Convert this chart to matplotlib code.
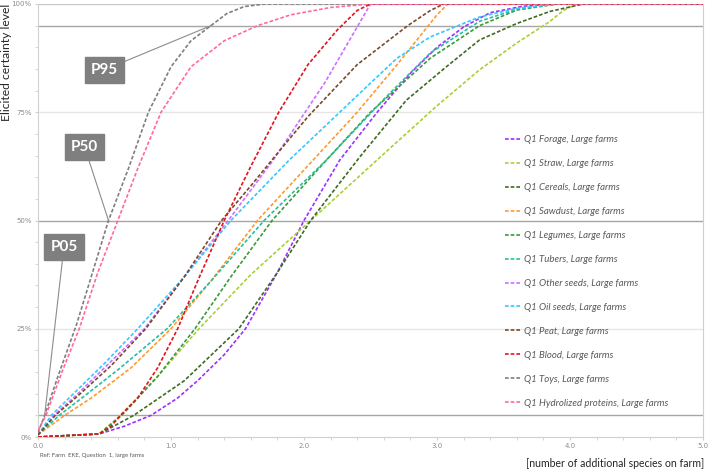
import matplotlib
matplotlib.use("Agg")
import matplotlib.pyplot as plt
from matplotlib.ticker import MultipleLocator, FuncFormatter

plt.rcParams['font.family'] = ['Lato', 'DejaVu Sans']

# elicited cumulative curves, x = additional species, y = certainty in %
forage_x = [0, 0.46, 0.65, 0.85, 1.05, 1.2, 1.4, 1.56, 1.8, 2.0, 2.27, 2.55, 2.8, 3.0, 3.2, 3.4, 3.65, 3.9, 5.0]
forage_y = [0, 0.7, 2.5, 5, 9, 13, 19, 25, 38, 50, 64, 75, 84, 90, 94.7, 98, 99.5, 100, 100]
straw_x = [0, 0.46, 0.62, 0.9, 1.21, 1.6, 2.05, 2.55, 3.0, 3.32, 3.6, 3.85, 3.95, 4.05, 5.0]
straw_y = [0, 0.7, 5, 14, 25, 37.5, 50, 64, 76.5, 84.8, 91, 96, 98.5, 100, 100]
cereals_x = [0, 0.46, 0.72, 1.1, 1.51, 1.8, 2.05, 2.42, 2.77, 3.07, 3.32, 3.6, 3.85, 4.1, 5.0]
cereals_y = [0, 0.7, 5, 13, 25, 38, 50, 64.7, 77.8, 85.5, 91.7, 95.5, 98.3, 100, 100]
sawdust_x = [0, 0.2, 0.4, 0.7, 1.0, 1.3, 1.65, 2.07, 2.4, 2.7, 2.87, 3.0, 3.08, 5.0]
sawdust_y = [0.5, 5, 9, 16, 25, 36, 50, 64, 75, 86, 92.5, 97.5, 100, 100]
legumes_x = [0, 0.46, 0.63, 0.9, 1.18, 1.45, 1.76, 2.14, 2.5, 2.95, 3.32, 3.6, 3.9, 5.0]
legumes_y = [0, 0.7, 5, 14, 25, 37, 50, 63, 75, 87.5, 95, 98.6, 100, 100]
tubers_x = [0, 0.16, 0.35, 0.6, 0.97, 1.3, 1.7, 2.17, 2.6, 2.95, 3.32, 3.6, 3.9, 5.0]
tubers_y = [0.5, 5, 9.5, 15.5, 25, 36, 50, 64, 78, 88.7, 96, 98.8, 100, 100]
other_x = [0, 0.12, 0.3, 0.5, 0.8, 1.1, 1.43, 1.77, 2.16, 2.5, 5.0]
other_y = [0.5, 5, 10, 16, 25, 37, 50, 64, 82, 100, 100]
oil_x = [0, 0.1, 0.25, 0.5, 0.75, 1.1, 1.45, 1.89, 2.2, 2.44, 2.7, 2.95, 3.32, 3.6, 3.9, 5.0]
oil_y = [0.5, 5, 9.5, 17, 25, 37, 50, 64, 73, 80, 87.5, 92.4, 97, 99, 100, 100]
peat_x = [0, 0.13, 0.3, 0.55, 0.81, 1.1, 1.38, 1.6, 1.8, 2.03, 2.4, 2.78, 2.95, 3.05, 5.0]
peat_y = [0.5, 5, 9.5, 16.5, 25, 37, 50, 58, 65.5, 74, 86, 95, 98.5, 100, 100]
blood_x = [0, 0.46, 0.55, 0.62, 0.75, 0.9, 1.05, 1.2, 1.4, 1.6, 1.81, 2.03, 2.25, 2.4, 2.5, 5.0]
blood_y = [0, 0.7, 2.5, 5, 9, 16, 25, 36, 50, 62.5, 75, 86, 94, 98.5, 100, 100]
toys_x = [0, 0.05, 0.15, 0.29, 0.41, 0.53, 0.68, 0.83, 1.0, 1.15, 1.3, 1.42, 1.55, 1.7, 5.0]
toys_y = [1, 5, 14, 26, 38, 50, 62, 75, 85.5, 91.5, 95, 97.8, 99.4, 100, 100]
hydro_x = [0, 0.06, 0.18, 0.31, 0.45, 0.6, 0.75, 0.925, 1.15, 1.4, 1.65, 1.9, 2.2, 2.5, 5.0]
hydro_y = [1.5, 5, 15, 25, 38, 50, 62, 75, 85.5, 91.5, 95, 97.5, 99.2, 100, 100]

labels = ["Q1 Forage, Large farms", "Q1 Straw, Large farms", "Q1 Cereals, Large farms",
          "Q1 Sawdust, Large farms", "Q1 Legumes, Large farms", "Q1 Tubers, Large farms",
          "Q1 Other seeds, Large farms", "Q1 Oil seeds, Large farms", "Q1 Peat, Large farms",
          "Q1 Blood, Large farms", "Q1 Toys, Large farms", "Q1 Hydrolized proteins, Large farms"]
colors = ['#9B30FF', '#A9CF38', '#3D6B22', '#FF9A2E', '#3A9A3A', '#22C2A0',
          '#CC70FF', '#33C8FF', '#7A4A2A', '#E0141E', '#7F7F7F', '#FF6A9A']
series = [(forage_x, forage_y), (straw_x, straw_y), (cereals_x, cereals_y),
          (sawdust_x, sawdust_y), (legumes_x, legumes_y), (tubers_x, tubers_y),
          (other_x, other_y), (oil_x, oil_y), (peat_x, peat_y), (blood_x, blood_y),
          (toys_x, toys_y), (hydro_x, hydro_y)]

fig = plt.figure(figsize=(7.09, 4.72), dpi=100)
ax = fig.add_axes([38 / 709, 1 - 437 / 472, (703 - 38) / 709, (437 - 4) / 472])

# reference lines
for lvl, c in [(25, '#e6e6e6'), (75, '#e6e6e6'), (100, '#c8c8c8'),
               (95, '#a6a6a6'), (50, '#a6a6a6'), (5, '#a6a6a6')]:
    ax.axhline(lvl, color=c, lw=1.0, zorder=1)

for (xs, ys), lab, c in zip(series, labels, colors):
    ax.plot(xs, ys, ls=(0, (2.2, 1.2)), lw=1.2, color=c, label=lab, zorder=3)

ax.set_xlim(0, 5)
ax.set_ylim(0, 100)
ax.xaxis.set_major_locator(MultipleLocator(1.0))
ax.xaxis.set_minor_locator(MultipleLocator(0.2))
ax.yaxis.set_major_locator(MultipleLocator(25))
ax.yaxis.set_minor_locator(MultipleLocator(5))
ax.xaxis.set_major_formatter(FuncFormatter(lambda v, p: "%.1f" % v))
ax.yaxis.set_major_formatter(FuncFormatter(lambda v, p: "%d%%" % v))
ax.tick_params(which='both', colors='#d0d0d0', labelcolor='#8c8c8c', labelsize=5,
               length=2, pad=2.5)
for lab in ax.get_xticklabels() + ax.get_yticklabels():
    lab.set_family('DejaVu Sans')
for s in ['left', 'bottom', 'right']:
    ax.spines[s].set_color('#d0d0d0')
ax.spines['top'].set_visible(False)

# percentile callouts
box = dict(boxstyle='square,pad=0.4', fc='#7f7f7f', ec='#7f7f7f')
for txt, xy, xyt in [("P95", (1.3, 95), (0.50, 84.8)),
                     ("P50", (0.53, 50), (0.35, 67.0)),
                     ("P05", (0.05, 5), (0.195, 43.9))]:
    ax.annotate(txt, xy=xy, xytext=xyt, ha='center', va='center', color='white',
                fontsize=11, fontweight='bold', bbox=box, zorder=5,
                arrowprops=dict(arrowstyle='-', color='#8c8c8c', lw=0.8, shrinkA=0, shrinkB=0))

leg = ax.legend(loc='upper left', bbox_to_anchor=(0.69, 0.717), frameon=False,
                handlelength=1.6, handletextpad=0.3, labelspacing=1.56,
                prop={'size': 6.9, 'style': 'italic'})
for t in leg.get_texts():
    t.set_color('#595959')

fig.text(0.002, 0.992, "Elicited certainty level", rotation=90, va='top', ha='left',
         fontsize=8.7, color='#262626')
fig.text(0.994, 0.006, "[number of additional species on farm]", ha='right', va='bottom',
         fontsize=7.6, color='#262626')
fig.text(40 / 709, 1 - 455 / 472, "Ref: Farm  EKE, Question  1, large farms", fontsize=4.3,
         color='#595959', va='center')

fig.savefig("out.png", dpi=100)
